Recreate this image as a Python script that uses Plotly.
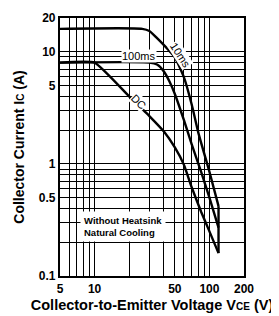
import math
import plotly.graph_objects as go

# ---- data ----
v_10ms = [5, 26, 30, 35, 40, 45, 50, 60, 70, 80, 100, 120]
i_10ms = [16, 16, 15.3, 13.2, 11.5, 10.1, 8.9, 5.9, 3.4, 1.9, 0.85, 0.42]

v_100ms = [5, 30, 35, 40, 45, 50, 60, 70, 85, 100, 120]
i_100ms = [8, 8, 7.7, 6.7, 5.4, 4.2, 2.45, 1.5, 0.84, 0.5, 0.27]

v_dc = [5, 10, 20, 30, 40, 50, 60, 70, 85, 100, 120]
i_dc = [8, 8, 4, 2.67, 1.95, 1.4, 0.98, 0.62, 0.37, 0.25, 0.16]

v_limit = [120, 120]
i_limit = [0.16, 0.42]

x_grid = [5, 6, 7, 8, 9, 10, 20, 30, 40, 50, 60, 70, 80, 90, 100, 200]
x_text = ["5", "", "", "", "", "10", "", "", "", "50", "", "", "", "", "100", "200"]
y_grid = [0.1, 0.2, 0.3, 0.4, 0.5, 0.6, 0.7, 0.8, 0.9, 1, 2, 3, 4, 5, 6, 7, 8, 9, 10, 20]
y_text = ["0.1", "", "", "", "0.5", "", "", "", "", "1", "", "", "", "5", "", "", "", "", "10", "20"]

FONT = "Liberation Sans"
line = dict(color="black", width=2.4)

fig = go.Figure()
fig.add_trace(go.Scatter(x=v_10ms, y=i_10ms, mode="lines", line=dict(line, shape="spline", smoothing=0.6), hoverinfo="skip"))
fig.add_trace(go.Scatter(x=v_100ms, y=i_100ms, mode="lines", line=dict(line, shape="spline", smoothing=0.6), hoverinfo="skip"))
fig.add_trace(go.Scatter(x=v_dc, y=i_dc, mode="lines", line=dict(line, shape="spline", smoothing=0.4), hoverinfo="skip"))
fig.add_trace(go.Scatter(x=v_limit, y=i_limit, mode="lines", line=line, hoverinfo="skip"))

lab_font = dict(family=FONT, size=11, color="black")
fig.add_annotation(x=math.log10(24.4), y=math.log10(9.2), text="100ms", showarrow=False,
                   font=lab_font, bgcolor="white", borderpad=0)
fig.add_annotation(x=math.log10(56), y=math.log10(9.4), text="10ms", showarrow=False,
                   font=lab_font, textangle=57, bgcolor="white", borderpad=0)
fig.add_annotation(x=math.log10(24.4), y=math.log10(3.6), text="DC", showarrow=False,
                   font=lab_font, textangle=45, bgcolor="white", borderpad=0)
fig.add_annotation(xref="paper", yref="paper", x=0.11, y=0.192, xanchor="left", yanchor="middle",
                   text="<b>Without Heatsink</b><br><b>Natural Cooling</b>", showarrow=False, align="left",
                   font=dict(family=FONT, size=9.5, color="black"), bgcolor="white", borderpad=3)

axis_common = dict(type="log", showgrid=True, gridcolor="black", gridwidth=1.4,
                   showline=True, linecolor="black", linewidth=2.2, mirror=True,
                   ticks="", zeroline=False, ticklabeloverflow="allow",
                   tickfont=dict(family=FONT, size=12, color="black"))

fig.update_xaxes(axis_common, range=[math.log10(5), math.log10(200)], tickmode="array",
                 tickvals=x_grid, ticktext=[f"<b>{t}</b>" if t else "" for t in x_text],
                 title=dict(text="<b>Collector-to-Emitter Voltage V<span style='font-size:10px'>CE</span> (V)</b>",
                            font=dict(family=FONT, size=14.5, color="black"), standoff=5))
fig.update_yaxes(axis_common, range=[math.log10(0.1), math.log10(20)], tickmode="array",
                 tickvals=y_grid, ticktext=[f"<b>{t}</b>" if t else "" for t in y_text],
                 title=dict(text="<b>Collector Current I<span style='font-size:10px'>C</span> (A)</b>",
                            font=dict(family=FONT, size=14, color="black"), standoff=11))

fig.update_layout(width=279, height=316, margin=dict(l=52, r=43, t=3, b=48),
                  paper_bgcolor="white", plot_bgcolor="white", showlegend=False)

fig.write_html("out.html")
